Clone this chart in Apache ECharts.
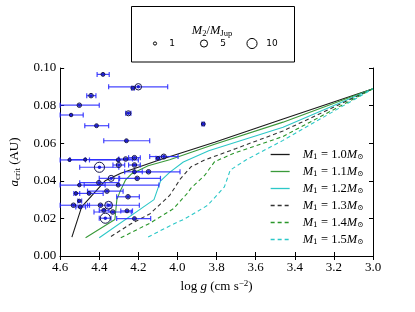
<!DOCTYPE html>
<html><head><meta charset="utf-8">
<script src="https://cdn.jsdelivr.net/npm/echarts@6/dist/echarts.min.js"></script>
<style>html,body{margin:0;padding:0;background:#fff}#c{width:415px;height:312px}</style>
</head><body><div id="c"></div>
<script>
// ---- planet data (log g, a_crit, horizontal error range, planet mass in M_Jup) ----
const planetLogg   = [4.381,4.200,4.228,4.442,4.502,4.251,4.544,4.414,4.261,3.868,
                      4.552,4.472,4.303,4.265,4.220,4.070,4.100,4.399,4.300,4.220,
                      4.148,4.220,4.206,4.339,4.402,4.502,4.303,4.361,4.452,4.519,
                      4.502,4.253,4.532,4.497,4.394,4.352,4.377,4.331,4.258,4.369,4.220];
const planetAcrit  = [0.0966,0.0900,0.0893,0.0853,0.0802,0.0759,0.0750,0.0693,0.0613,0.0702,
                      0.0511,0.0513,0.0511,0.0516,0.0523,0.0529,0.0520,0.0472,0.0484,0.0484,
                      0.0448,0.0448,0.0413,0.0413,0.0390,0.0377,0.0377,0.0345,0.0333,0.0333,
                      0.0293,0.0315,0.0270,0.0261,0.0270,0.0270,0.0243,0.0234,0.0240,0.0201,0.0199];
const planetLoggLo = [4.411,4.352,4.235,4.464,4.600,4.265,4.600,4.474,4.377,3.875,
                      4.600,4.550,4.450,4.300,4.250,4.142,4.110,4.500,4.330,4.250,
                      4.220,4.270,4.296,4.400,4.500,4.600,4.477,4.460,4.520,4.530,
                      4.510,4.311,4.600,4.520,4.460,4.360,4.400,4.427,4.290,4.400,4.311];
const planetLoggHi = [4.349,4.050,4.220,4.417,4.400,4.238,4.482,4.352,4.142,3.862,
                      4.470,4.300,4.200,4.230,4.190,3.997,4.090,4.300,4.270,4.190,
                      3.987,4.180,4.087,4.300,4.300,4.370,4.095,4.278,4.380,4.500,
                      4.490,4.195,4.450,4.470,4.195,4.340,4.350,4.236,4.230,4.340,4.137];
const planetMass   = [1.5,4,1.5,2,2,2.5,1.2,1.5,1.5,1.5,
                      1,1,1.5,2,2,2.5,1.2,10,2.5,2,
                      2,1.5,2,3.5,2,1.2,1.5,2,1.5,1.2,
                      1.2,2,2,1.5,2,6,1.5,2,1.5,10,1.5];

// ---- critical-separation tracks for host masses ----
const trackNames = ['1.0','1.1','1.2','1.3','1.4','1.5'];
const trackLogg = [
  [4.54,4.49,4.37,4.29,4.09,3.81,3.46,3.00],
  [4.47,4.32,4.31,4.295,4.265,4.236,4.15,4.04,3.81,3.46,3.00],
  [4.40,4.12,4.10,4.086,4.04,3.97,3.84,3.46,3.00],
  [4.34,4.24,4.14,4.04,3.985,3.93,3.86,3.70,3.46,3.00],
  [4.29,4.14,4.02,3.95,3.93,3.86,3.81,3.71,3.46,3.00],
  [4.15,4.04,3.96,3.845,3.76,3.73,3.65,3.46,3.00]
];
const trackA = [
  [0.0100,0.0261,0.0400,0.0440,0.0512,0.0605,0.0729,0.0890],
  [0.0097,0.0194,0.0300,0.0340,0.0405,0.0436,0.0480,0.0512,0.0594,0.0712,0.0890],
  [0.0097,0.0300,0.0360,0.0400,0.0445,0.0500,0.0560,0.0685,0.0890],
  [0.0104,0.0170,0.0225,0.0322,0.0410,0.0475,0.0511,0.0572,0.0665,0.0890],
  [0.0097,0.0175,0.0252,0.0333,0.0362,0.0430,0.0502,0.0547,0.0636,0.0890],
  [0.0101,0.0160,0.0199,0.0270,0.0368,0.0457,0.0511,0.0615,0.0890]
];
const trackColors = ['#1a1a1a','#3a9a3a','#2cc8c8','#333333','#2a962a','#2cc8c8'];
const trackDashed = [false,false,false,true,true,true];

// ---- axes ----
const xMin = 3.0, xMax = 4.6, xStep = 0.2;
const yMin = 0.0, yMax = 0.10, yStep = 0.02;

// ---- mass legend ----
const massLegendValues = [1,5,10];

const SERIF = 'Liberation Serif';
const chart = echarts.init(document.getElementById('c'));

const richBase = {
  n: {fontFamily: SERIF, fontSize: 13, color: '#000', lineHeight: 16},
  i: {fontFamily: SERIF, fontSize: 13, fontStyle: 'italic', color: '#000', lineHeight: 16},
  s: {fontFamily: SERIF, fontSize: 9, color: '#000', lineHeight: 9, verticalAlign: 'bottom'},
  sup: {fontFamily: SERIF, fontSize: 9, color: '#000', lineHeight: 9, verticalAlign: 'top'}
};

const axisCommon = {
  type: 'value',
  axisLine: {show: true, lineStyle: {color: '#000', width: 1}},
  axisTick: {show: true, inside: true, length: 4, lineStyle: {color: '#000'}},
  splitLine: {show: false}
};

const errData = planetLogg.map((g, i) => [planetLoggLo[i], planetLoggHi[i], planetAcrit[i]]);
const dotData = planetLogg.map((g, i) => [g, planetAcrit[i]]);
const ringData = planetLogg.map((g, i) => [g, planetAcrit[i], planetMass[i]]);

const series = [
  {
    type: 'custom',
    xAxisIndex: 0, yAxisIndex: 0,
    data: errData,
    encode: {x: [0, 1], y: 2},
    z: 2,
    renderItem: function (params, api) {
      const y = api.value(2);
      const p1 = api.coord([api.value(0), y]);
      const p2 = api.coord([api.value(1), y]);
      const st = {stroke: '#2424ff', lineWidth: 1.2, opacity: 0.85};
      return {type: 'group', children: [
        {type: 'line', shape: {x1: p1[0], y1: p1[1], x2: p2[0], y2: p2[1]}, style: st},
        {type: 'line', shape: {x1: p1[0], y1: p1[1] - 2.5, x2: p1[0], y2: p1[1] + 2.5}, style: st},
        {type: 'line', shape: {x1: p2[0], y1: p2[1] - 2.5, x2: p2[0], y2: p2[1] + 2.5}, style: st}
      ]};
    }
  },
  {
    type: 'scatter', xAxisIndex: 0, yAxisIndex: 0, data: dotData,
    symbol: 'circle', symbolSize: 3.4, z: 3,
    itemStyle: {color: '#1c1cd8', opacity: 1}
  },
  {
    type: 'scatter', xAxisIndex: 0, yAxisIndex: 0, data: ringData,
    symbol: 'circle', symbolSize: v => 3.2 * Math.sqrt(v[2]), z: 4,
    itemStyle: {color: 'rgba(0,0,0,0)', borderColor: '#14144a', borderWidth: 1, opacity: 1}
  }
];

trackNames.forEach((nm, k) => {
  series.push({
    name: nm, type: 'line', xAxisIndex: 0, yAxisIndex: 0,
    data: trackLogg[k].map((g, i) => [g, trackA[k][i]]),
    symbol: 'none', showSymbol: false, z: 1, silent: true,
    lineStyle: {color: trackColors[k], width: 1.1, type: trackDashed[k] ? [4, 3] : 'solid'},
    itemStyle: {color: trackColors[k]}
  });
});

const option = {
  backgroundColor: '#fff',
  animation: false,
  grid: {left: 52, right: 42, top: 68, bottom: 56, containLabel: false},
  xAxis: [
    Object.assign({}, axisCommon, {
      position: 'bottom', min: xMin, max: xMax, interval: xStep, inverse: true,
      axisLabel: {formatter: v => v.toFixed(1), fontFamily: SERIF, fontSize: 13, color: '#000', margin: 5},
      name: '{n|log }{i|g}{n| (cm s}{sup|−2}{n|)}',
      nameLocation: 'middle', nameGap: 19,
      nameTextStyle: {rich: richBase}
    }),
    Object.assign({}, axisCommon, {
      position: 'top', min: xMin, max: xMax, interval: xStep, inverse: true,
      axisLabel: {show: false}
    })
  ],
  yAxis: [
    Object.assign({}, axisCommon, {
      position: 'left', min: yMin, max: yMax, interval: yStep,
      axisLabel: {formatter: v => v.toFixed(2), fontFamily: SERIF, fontSize: 13, color: '#000', margin: 4},
      name: '{i|a}{s|crit}{n| (AU)}',
      nameLocation: 'middle', nameGap: 27, nameRotate: 90,
      nameTextStyle: {rich: richBase}
    }),
    Object.assign({}, axisCommon, {
      position: 'right', min: yMin, max: yMax, interval: yStep,
      axisLabel: {show: false}
    })
  ],
  legend: {
    data: trackNames.map((n, k) => ({
      name: n,
      itemStyle: {color: 'rgba(0,0,0,0)', borderWidth: 0, opacity: 0},
      lineStyle: {color: trackColors[k], width: 1.3, type: trackDashed[k] ? [4, 3] : 'solid'}
    })),
    orient: 'vertical',
    left: 265, top: 143,
    itemWidth: 19, itemHeight: 14, itemGap: 3.5,
    itemStyle: {color: 'rgba(0,0,0,0)', borderWidth: 0, opacity: 0},
    formatter: n => '{i|M}{s|1}{n| = ' + n + '}{i|M}{s|⊙}',
    textStyle: {
      padding: [0, 0, 0, 8],
      rich: {
        n: {fontFamily: SERIF, fontSize: 12.5, color: '#000', lineHeight: 14},
        i: {fontFamily: SERIF, fontSize: 12.5, fontStyle: 'italic', color: '#000', lineHeight: 14},
        s: {fontFamily: 'DejaVu Serif', fontSize: 7.5, color: '#000', lineHeight: 8, verticalAlign: 'bottom'}
      }
    }
  },
  graphic: [
    {type: 'rect', shape: {x: 131.5, y: 6.5, width: 163, height: 55.5},
     style: {fill: '#fff', stroke: '#000', lineWidth: 1}, z: 10},
    {type: 'text', x: 212, y: 31, z: 11,
     style: {text: '{i|M}{s|2}{n|/}{i|M}{s|Jup}', align: 'center', verticalAlign: 'middle',
             rich: {
               n: {fontFamily: SERIF, fontSize: 12.5, color: '#000', lineHeight: 15},
               i: {fontFamily: SERIF, fontSize: 12.5, fontStyle: 'italic', color: '#000', lineHeight: 15},
               s: {fontFamily: SERIF, fontSize: 8.5, color: '#000', lineHeight: 9, verticalAlign: 'bottom'}
             }}},
    ...massLegendValues.map((m, k) => ({
      type: 'circle', z: 11,
      shape: {cx: [155, 204, 252][k], cy: 43.5, r: 1.6 * Math.sqrt(m)},
      style: {fill: 'none', stroke: '#000', lineWidth: 1}
    })),
    ...massLegendValues.map((m, k) => ({
      type: 'text', z: 11, x: [172, 223, 272][k], y: 43.5,
      style: {text: String(m), align: 'center', verticalAlign: 'middle',
              fontFamily: 'DejaVu Sans', fontSize: 9, fill: '#000'}
    }))
  ],
  series: series
};
chart.setOption(option);
</script>
</body></html>
